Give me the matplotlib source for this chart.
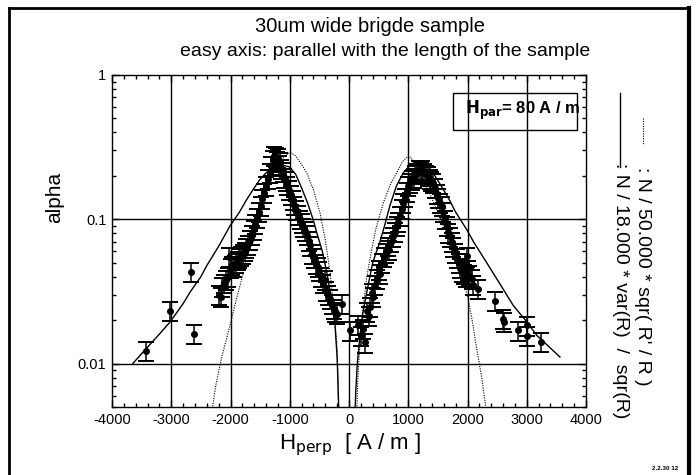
import matplotlib
matplotlib.use("Agg")
import matplotlib.pyplot as plt
from matplotlib.ticker import FixedLocator, LogLocator, NullFormatter, FixedFormatter
from matplotlib.lines import Line2D
from matplotlib.patches import Rectangle

plt.rcParams['font.family'] = ['Liberation Sans', 'DejaVu Sans']

# ---------------- data ----------------
title_lines = ["30um wide brigde sample", "easy axis: parallel with the length of the sample"]

# measured points (H_perp in A/m, alpha)
h_left = [-3431, -3021, -2667, -2616,
          -2200, -2166, -2140, -2110, -2080, -2050, -2030, -2000, -1970, -1940,
          -1910, -1880, -1850, -1820, -1790, -1760, -1730, -1700, -1670, -1640,
          -1610, -1580, -1550, -1520, -1490, -1460, -1430, -1400, -1370, -1340,
          -1310, -1280, -1260, -1240, -1220, -1200, -1180, -1160, -1140, -1120,
          -1100, -1070, -1040, -1010, -980, -950, -920, -890, -860, -830, -800,
          -770, -740, -710, -680, -650, -620, -590, -560, -530, -500, -470, -440,
          -410, -380, -350, -320, -290, -260, -230, -200, -124, 17]
a_left = [0.0122, 0.0233, 0.0433, 0.0161,
          0.030, 0.029, 0.034, 0.036, 0.038, 0.040, 0.055, 0.046, 0.048, 0.047,
          0.050, 0.052, 0.054, 0.056, 0.058, 0.060, 0.063, 0.067, 0.072, 0.078,
          0.085, 0.093, 0.102, 0.112, 0.124, 0.138, 0.152, 0.170, 0.190, 0.210,
          0.235, 0.260, 0.275, 0.270, 0.255, 0.265, 0.240, 0.250, 0.225, 0.215,
          0.195, 0.185, 0.172, 0.160, 0.148, 0.136, 0.125, 0.116, 0.108, 0.100, 0.094,
          0.088, 0.083, 0.078, 0.071, 0.066, 0.058, 0.054, 0.049, 0.047, 0.044, 0.040, 0.036,
          0.038, 0.032, 0.030, 0.028, 0.026, 0.024, 0.023, 0.022, 0.026, 0.017]

h_right = [160, 197, 230, 270, 300, 330, 354, 383, 410, 440, 467, 500, 530,
           560, 590, 620, 650, 680, 710, 740, 770, 805, 830, 860, 890, 917, 945,
           975, 1001, 1030, 1060, 1090, 1120, 1150, 1180, 1210, 1240, 1270, 1300,
           1330, 1360, 1390, 1423, 1450, 1480, 1510, 1540, 1564, 1590, 1620, 1650,
           1676, 1700, 1730, 1760, 1789, 1820, 1850, 1880, 1902, 1940, 1970, 1986,
           2000, 2030, 2070, 2100, 2183, 2464, 2605, 2620, 2858, 2999, 2999, 3235]
a_right = [0.0185, 0.0155, 0.0175, 0.0140, 0.0230, 0.0215, 0.0247, 0.0310, 0.0290,
           0.0350, 0.0386, 0.0450, 0.0420, 0.0500, 0.0550, 0.0590, 0.0650, 0.0610,
           0.0700, 0.0760, 0.0820, 0.0900, 0.0960, 0.1050, 0.1180, 0.1300, 0.1420,
           0.1550, 0.1700, 0.1800, 0.1880, 0.1950, 0.2050, 0.2100, 0.2200, 0.2150,
           0.2200, 0.2100, 0.2050, 0.2000, 0.1900, 0.1850, 0.1790, 0.1650, 0.1500,
           0.1400, 0.1300, 0.1240, 0.1120, 0.1000, 0.0900, 0.0810, 0.0760, 0.0700,
           0.0640, 0.0590, 0.0540, 0.0500, 0.0460, 0.0430, 0.0420, 0.0400, 0.0553,
           0.0450, 0.0410, 0.0386, 0.0350, 0.0329, 0.0273, 0.0204, 0.0195, 0.0170,
           0.0184, 0.0155, 0.0141]
REL_ERR = 0.15

# model: N / 18.000 * var(R) / sqr(R)  (solid)
var_h_left = [-3650, -3400, -3200, -3021, -2800, -2684, -2500, -2402, -2200, -2008,
              -1850, -1727, -1600, -1502, -1400, -1300, -1200, -1100, -1000, -900,
              -800, -700, -600, -545, -450, -376, -300, -236, -200, -180, -170]
var_a_left = [0.0100, 0.0130, 0.0160, 0.0194, 0.0260, 0.0312, 0.0400, 0.0476, 0.0650,
              0.090, 0.112, 0.137, 0.165, 0.189, 0.210, 0.226, 0.234, 0.236, 0.230,
              0.205, 0.165, 0.130, 0.098, 0.081, 0.060, 0.043, 0.029, 0.0184, 0.0110,
              0.0060, 0.0045]
var_h_right = [100, 115, 140, 180, 230, 298, 400, 523, 600, 692, 800, 917, 1000, 1080,
               1142, 1220, 1300, 1367, 1450, 1520, 1592, 1700, 1800, 1986, 2100, 2324,
               2550, 2774, 3000, 3168, 3400, 3560]
var_a_right = [0.0045, 0.0065, 0.0100, 0.0150, 0.0220, 0.0310, 0.050, 0.070, 0.090,
               0.125, 0.170, 0.210, 0.230, 0.245, 0.250, 0.248, 0.238, 0.225, 0.200,
               0.180, 0.161, 0.135, 0.112, 0.085, 0.070, 0.050, 0.0355, 0.0252, 0.0195,
               0.0157, 0.0128, 0.0111]

# model: N / 50.000 * sqr( R' / R )  (dotted)
sqr_h_left = [-2318, -2250, -2150, -2008, -1900, -1800, -1727, -1600, -1446, -1300,
              -1220, -1100, -996, -900, -800, -714, -600, -490, -400, -320, -260,
              -208, -185, -175]
sqr_a_left = [0.0045, 0.0070, 0.0110, 0.0184, 0.0280, 0.0400, 0.0530, 0.080, 0.137,
              0.200, 0.233, 0.270, 0.291, 0.275, 0.240, 0.210, 0.160, 0.111, 0.072,
              0.043, 0.025, 0.0141, 0.0080, 0.0045]
sqr_h_right = [129, 150, 180, 230, 300, 354, 450, 579, 700, 805, 900, 1001, 1050,
               1150, 1250, 1350, 1450, 1550, 1650, 1761, 1870, 1986, 2070, 2155, 2240,
               2324]
sqr_a_right = [0.0045, 0.0080, 0.0130, 0.0230, 0.040, 0.053, 0.085, 0.130, 0.175,
               0.210, 0.250, 0.276, 0.265, 0.230, 0.190, 0.155, 0.125, 0.100, 0.080,
               0.0655, 0.045, 0.031, 0.021, 0.0127, 0.0080, 0.0045]

x_ticks = [-4000, -3000, -2000, -1000, 0, 1000, 2000, 3000, 4000]
x_ticklabels = ["-4000", "-3000", "-2000", "-1000", "0", "1000", "2000", "3000", "4000"]
y_ticks = [0.01, 0.1, 1]
y_ticklabels = ["0.01", "0.1", "1"]
legend_labels = [": N / 50.000 * sqr( R' / R )", ": N / 18.000 * var(R)  /  sqr(R)"]
box_text = r"$\mathbf{H_{par}}$= 80 A / m"
stamp = "2.2.30 12"

# ---------------- figure ----------------
W, H = 696, 475
fig = plt.figure(figsize=(W / 100, H / 100), dpi=100)
ax = fig.add_axes([112 / W, 1 - 407 / H, (586 - 112) / W, (407 - 75) / H])

ax.set_yscale('log')
ax.set_xlim(-4000, 4000)
ax.set_ylim(0.005, 1)

for v in x_ticks[1:-1]:
    ax.axvline(v, color='black', lw=1.0, zorder=1)
for v in y_ticks[:-1]:
    ax.axhline(v, color='black', lw=1.0, zorder=1)

ax.plot(var_h_left, var_a_left, color='black', lw=1.0, zorder=3)
ax.plot(var_h_right, var_a_right, color='black', lw=1.0, zorder=3)
ax.plot(sqr_h_left, sqr_a_left, color='black', lw=0.8, ls=(0, (1, 1.2)), zorder=3)
ax.plot(sqr_h_right, sqr_a_right, color='black', lw=0.8, ls=(0, (1, 1.2)), zorder=3)

for hs, als in ((h_left, a_left), (h_right, a_right)):
    yerr = [[a * REL_ERR for a in als], [a * REL_ERR for a in als]]
    ax.errorbar(hs, als, yerr=yerr, fmt='o', color='black', ms=4, elinewidth=1.1,
                capsize=6, capthick=1.4, zorder=4)

ax.xaxis.set_major_locator(FixedLocator(x_ticks))
ax.xaxis.set_major_formatter(FixedFormatter(x_ticklabels))
ax.xaxis.set_minor_locator(FixedLocator(list(range(-4000, 4001, 200))))
ax.yaxis.set_major_locator(FixedLocator(y_ticks))
ax.yaxis.set_major_formatter(FixedFormatter(y_ticklabels))
ax.yaxis.set_minor_locator(LogLocator(base=10, subs=range(2, 10)))
ax.yaxis.set_minor_formatter(NullFormatter())
ax.tick_params(which='both', direction='in', top=True, right=True, width=1.0)
ax.tick_params(which='major', length=5, labelsize=10.5, pad=4)
ax.tick_params(which='minor', length=3)
for s in ax.spines.values():
    s.set_linewidth(1.0)

# H_par box
box = Rectangle((0.719, 0.834), 0.262, 0.112, transform=ax.transAxes,
                fill=False, edgecolor='black', lw=1.0, zorder=5)
ax.add_patch(box)
t = ax.text(0.745, 0.893, box_text, transform=ax.transAxes, fontsize=12,
            fontweight='bold', va='center', ha='left', zorder=5)
t.set_clip_path(box)

# titles and labels
fig.text(370 / W, 1 - 27 / H, title_lines[0], ha='center', va='center', fontsize=14.5)
fig.text(385 / W, 1 - 52 / H, title_lines[1], ha='center', va='center', fontsize=14)
fig.text(55 / W, 1 - 197 / H, "alpha", rotation=90, ha='center', va='center', fontsize=15)
fig.text(350 / W, 1 - 445 / H, r"H$_{\mathrm{perp}}$  [ A / m ]", ha='center', va='center',
         fontsize=16)

# legend on the right, rotated
fig.add_artist(Line2D([620 / W, 620 / W], [1 - 93 / H, 1 - 167 / H], color='black', lw=1.0))
fig.add_artist(Line2D([643 / W, 643 / W], [1 - 118 / H, 1 - 145 / H], color='black', lw=0.8,
                      ls=(0, (1, 1.2))))
fig.text(643 / W, 1 - 167 / H, legend_labels[0], rotation=-90, ha='center', va='top', fontsize=14)
fig.text(620 / W, 1 - 163 / H, legend_labels[1], rotation=-90, ha='center', va='top', fontsize=14)

fig.text(665 / W, 1 - 468 / H, stamp, ha='center', va='center', fontsize=4.5, fontweight='bold')

# outer frame (scanned page border)
fig.add_artist(Line2D([9 / W, 689 / W], [1 - 8 / H, 1 - 8 / H], color='black', lw=2.0))
fig.add_artist(Line2D([9 / W, 9 / W], [1 - 8 / H, 0.0], color='black', lw=2.0))
fig.add_artist(Line2D([689 / W, 689 / W], [1 - 8 / H, 0.0], color='black', lw=3.0))

fig.savefig("out.png", dpi=100)
